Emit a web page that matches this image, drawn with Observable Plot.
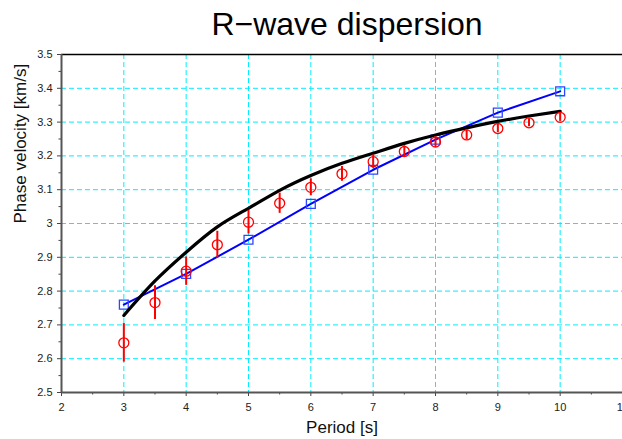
<!DOCTYPE html>
<html>
<head>
<meta charset="utf-8">
<script src="https://cdn.jsdelivr.net/npm/d3@7"></script>
<script src="https://cdn.jsdelivr.net/npm/@observablehq/plot@0.6"></script>
<style>
  html, body { margin: 0; padding: 0; background: #fff; }
  #title { width: 622px; height: 40px; position: relative; font-family: "Liberation Sans", Arial, sans-serif; }
  #title span { position: absolute; left: 347px; top: 6px; transform: translateX(-50%); font-size: 32px; color: #000; white-space: nowrap; }
  svg { display: block; }
</style>
</head>
<body>
<div id="title"><span>R−wave dispersion</span></div>
<div id="chart"></div>
<script>
// Observed dispersion (red circles with error bars)
const obsPeriod = [3, 3.5, 4, 4.5, 5, 5.5, 6, 6.5, 7, 7.5, 8, 8.5, 9, 9.5, 10];
const obsVel    = [2.647, 2.766, 2.859, 2.937, 3.004, 3.060, 3.107, 3.147, 3.183, 3.213, 3.241, 3.262, 3.281, 3.298, 3.314];
const obsErr    = [0.057, 0.050, 0.042, 0.040, 0.035, 0.030, 0.025, 0.022, 0.020, 0.017, 0.016, 0.014, 0.012, 0.012, 0.012];

// Black model curve
const fitPeriod = [3, 3.5, 4, 4.5, 5, 5.5, 6, 6.5, 7, 7.5, 8, 8.5, 9, 9.5, 10];
const fitVel    = [2.728, 2.83, 2.915, 2.99, 3.045, 3.098, 3.142, 3.178, 3.208, 3.237, 3.262, 3.283, 3.302, 3.318, 3.332];

// Blue model (squares)
const initPeriod = [3, 4, 5, 6, 7, 8, 9, 10];
const initVel    = [2.760, 2.851, 2.952, 3.058, 3.159, 3.248, 3.328, 3.391];

// Ticks and labels
const xTicks = [2, 3, 4, 5, 6, 7, 8, 9, 10, 11];
const xMinor = [2.5, 3.5, 4.5, 5.5, 6.5, 7.5, 8.5, 9.5, 10.5];
const yTicks = [2.5, 2.6, 2.7, 2.8, 2.9, 3, 3.1, 3.2, 3.3, 3.4, 3.5];
const yMinor = [2.55, 2.65, 2.75, 2.85, 2.95, 3.05, 3.15, 3.25, 3.35, 3.45];
const xGrid = [3, 4, 5, 6, 7, 8, 9, 10];
const yGrid = [2.6, 2.7, 2.8, 2.9, 3, 3.1, 3.2, 3.3, 3.4];
const xLabel = ["Period [s]"];
const yLabel = ["Phase velocity [km/s]"];

const obs = obsPeriod.map((p, i) => ({p, v: obsVel[i], lo: obsVel[i] - obsErr[i], hi: obsVel[i] + obsErr[i]}));
const fit = fitPeriod.map((p, i) => ({p, v: fitVel[i]}));
const init = initPeriod.map((p, i) => ({p, v: initVel[i]}));

const chart = Plot.plot({
  width: 622,
  height: 399,
  marginTop: 14,
  marginBottom: 47,
  marginLeft: 61,
  marginRight: 0,
  style: {fontFamily: "'Liberation Sans', Arial, sans-serif", fontSize: "11px", color: "#333", background: "#fff"},
  x: {domain: [2, 11]},
  y: {domain: [2.5, 3.5]},
  marks: [
    Plot.ruleX(xGrid, {stroke: "#00eeff", strokeWidth: 1, strokeDasharray: "5,3"}),
    Plot.ruleY(yGrid, {stroke: "#00eeff", strokeWidth: 1, strokeDasharray: "5,3"}),
    Plot.ruleY([3.5], {stroke: "#000", strokeWidth: 1.5}),
    Plot.axisX({ticks: xTicks, tickSize: 4, tickPadding: 7, tickFormat: d => String(d),
      stroke: "#444", fill: "#222", label: null}),
    Plot.axisX({ticks: xMinor, tickSize: 2.5, text: null, label: null, stroke: "#444"}),
    Plot.axisY({ticks: yTicks, tickSize: 4, tickPadding: 5, tickFormat: d => String(d),
      stroke: "#444", fill: "#222", label: null}),
    Plot.axisY({ticks: yMinor, tickSize: 2.5, text: null, label: null, stroke: "#444"}),
    Plot.ruleX([2], {stroke: "#555", strokeWidth: 2}),
    Plot.ruleY([2.5], {stroke: "#555", strokeWidth: 2}),
    Plot.text(xLabel, {frameAnchor: "bottom", dy: 40, fontSize: 17, fill: "#111"}),
    Plot.text(yLabel, {frameAnchor: "left", dx: -41, rotate: -90, fontSize: 17, fill: "#111"}),
    Plot.line(init, {x: "p", y: "v", stroke: "#0000ff", strokeWidth: 2}),
    Plot.dot(init, {x: "p", y: "v", symbol: "square", r: 5, stroke: "#3344ff", strokeWidth: 1.3, fill: "none"}),
    Plot.line(fit, {x: "p", y: "v", stroke: "#000", strokeWidth: 3.2, curve: "natural"}),
    Plot.ruleX(obs, {x: "p", y1: "lo", y2: "hi", stroke: "#ff0000", strokeWidth: 2}),
    Plot.dot(obs, {x: "p", y: "v", r: 5, stroke: "#ff0000", strokeWidth: 1.3, fill: "none"})
  ]
});
document.getElementById("chart").appendChild(chart);
</script>
</body>
</html>
